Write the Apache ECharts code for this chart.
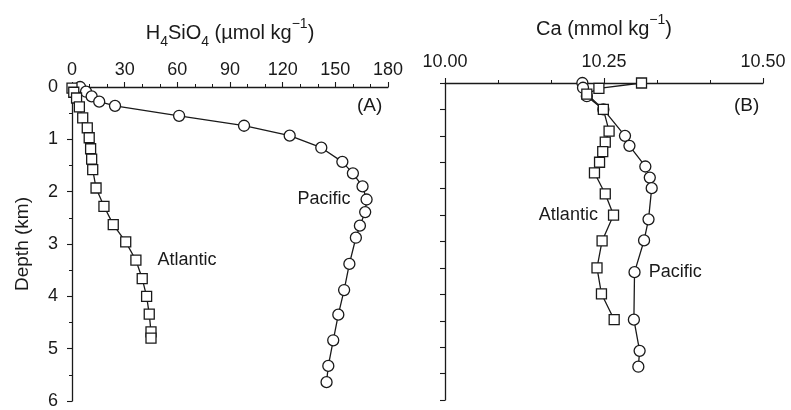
<!DOCTYPE html>
<html>
<head>
<meta charset="utf-8">
<script src="https://cdn.jsdelivr.net/npm/echarts@6/dist/echarts.min.js"></script>
<style>
  html, body { margin: 0; padding: 0; background: #fff; }
  #chart { width: 791px; height: 410px; }
</style>
</head>
<body>
<div id="chart"></div>
<script>
// 面板 A：H4SiO4 剖面
const siPacDepth = [0.0, 0.09, 0.18, 0.28, 0.36, 0.55, 0.74, 0.93, 1.16, 1.43, 1.65, 1.90, 2.15, 2.39, 2.65, 2.88, 3.38, 3.88, 4.35, 4.84, 5.33, 5.64];
const siPac = [4.6, 8, 11.2, 15.5, 24.5, 61, 98, 124, 142, 154, 160, 165.5, 167.8, 167, 164, 161.7, 158, 155, 151.7, 148.8, 146, 145];
const siAtlDepth = [0.02, 0.1, 0.21, 0.38, 0.59, 0.78, 0.97, 1.18, 1.38, 1.58, 1.93, 2.28, 2.63, 2.96, 3.31, 3.66, 4.0, 4.34, 4.68, 4.80];
const siAtl = [0, 1, 2.6, 4.2, 6.1, 8.7, 9.8, 10.6, 11.2, 11.8, 13.7, 18.2, 23.5, 30.6, 36.4, 40, 42.5, 44, 45, 45];

// 面板 B：Ca 剖面
const caPacDepth = [0, 0.09, 0.25, 0.50, 1.0, 1.19, 1.58, 1.79, 1.99, 2.58, 2.98, 3.58, 4.48, 5.07, 5.37];
const caPac = [10.216, 10.217, 10.223, 10.249, 10.283, 10.290, 10.315, 10.322, 10.325, 10.320, 10.313, 10.298, 10.297, 10.306, 10.304];
const caAtlDepth = [0, 0.10, 0.21, 0.50, 0.91, 1.12, 1.30, 1.50, 1.70, 2.10, 2.50, 2.99, 3.50, 3.99, 4.48];
const caAtl = [10.309, 10.242, 10.223, 10.249, 10.258, 10.252, 10.248, 10.243, 10.235, 10.252, 10.265, 10.247, 10.239, 10.246, 10.266];

// 哪个点旁边放标注
const siPacLabelIdx = 12;
const siAtlLabelIdx = 14;
const caAtlLabelIdx = 10;
const caPacLabelIdx = 11;

const FONT = 'Liberation Sans, Arial, Helvetica, sans-serif';
const INK = '#1a1a1a';

function pairs(values, depths, labelIdx, text, pos, dist) {
    return values.map((v, i) => {
        const item = { value: [v, depths[i]] };
        if (i === labelIdx) {
            item.label = {
                show: true, formatter: text, position: pos, distance: dist,
                fontFamily: FONT, fontSize: 18, color: INK
            };
        }
        return item;
    });
}

function profile(name, data, idx, symbol, size) {
    return {
        name: name,
        type: 'line',
        xAxisIndex: idx,
        yAxisIndex: idx,
        data: data,
        symbol: symbol,
        symbolSize: size,
        showSymbol: true,
        animation: false,
        lineStyle: { color: INK, width: 1.3 },
        itemStyle: { color: '#fff', borderColor: INK, borderWidth: 1.3 },
        z: 3
    };
}

const axisLineStyle = { show: true, lineStyle: { color: INK, width: 1.3 } };
const tickStyle = { show: true, length: 5, lineStyle: { color: INK, width: 1.1 } };
const minorStyle = { show: true, length: 3, lineStyle: { color: INK, width: 1 } };

const nameRich = {
    n: { fontFamily: FONT, fontSize: 20, color: INK, lineHeight: 24 },
    sub: { fontFamily: FONT, fontSize: 14, color: INK, lineHeight: 16, verticalAlign: 'bottom', padding: [0, 0, -4, 0] },
    sup: { fontFamily: FONT, fontSize: 14, color: INK, lineHeight: 16, verticalAlign: 'top', padding: [-4, 0, 0, 0] }
};

const chart = echarts.init(document.getElementById('chart'), null, { renderer: 'canvas' });

const option = {
    backgroundColor: '#fff',
    animation: false,
    grid: [
        { left: 72, right: 403, top: 87, bottom: 7 },
        { left: 445, right: 28, top: 83, bottom: 10 }
    ],
    xAxis: [
        {
            gridIndex: 0, type: 'value', position: 'top',
            min: 0, max: 180, interval: 30,
            name: '{n|H}{sub|4}{n|SiO}{sub|4}{n| (µmol kg}{sup|−1}{n|)}',
            nameLocation: 'middle', nameGap: 42,
            nameTextStyle: { rich: nameRich },
            axisLine: axisLineStyle, axisTick: tickStyle,
            minorTick: Object.assign({ splitNumber: 3 }, minorStyle),
            splitLine: { show: false },
            axisLabel: { fontFamily: FONT, fontSize: 18, color: INK, margin: 8 }
        },
        {
            gridIndex: 1, type: 'value', position: 'top',
            min: 10, max: 10.5, interval: 0.25,
            name: '{n|Ca (mmol kg}{sup|−1}{n|)}',
            nameLocation: 'middle', nameGap: 42,
            nameTextStyle: { rich: nameRich },
            axisLine: axisLineStyle, axisTick: tickStyle,
            minorTick: Object.assign({ splitNumber: 3 }, minorStyle),
            splitLine: { show: false },
            axisLabel: {
                fontFamily: FONT, fontSize: 18, color: INK, margin: 12,
                formatter: (v) => v.toFixed(2)
            }
        }
    ],
    yAxis: [
        {
            gridIndex: 0, type: 'value', inverse: true,
            min: 0, max: 6, interval: 1,
            name: 'Depth (km)', nameLocation: 'middle', nameGap: 40, nameRotate: 90,
            nameTextStyle: { fontFamily: FONT, fontSize: 19, color: INK },
            axisLine: axisLineStyle, axisTick: tickStyle,
            minorTick: Object.assign({ splitNumber: 2 }, minorStyle),
            splitLine: { show: false },
            axisLabel: { fontFamily: FONT, fontSize: 18, color: INK, margin: 14 }
        },
        {
            gridIndex: 1, type: 'value', inverse: true,
            min: 0, max: 6, interval: 0.5,
            axisLine: axisLineStyle, axisTick: tickStyle,
            splitLine: { show: false },
            axisLabel: { show: false }
        }
    ],
    graphic: [
        { type: 'text', left: 357, top: 96, style: { text: '(A)', font: '19px ' + FONT, fill: INK } },
        { type: 'text', left: 734, top: 96, style: { text: '(B)', font: '19px ' + FONT, fill: INK } }
    ],
    series: [
        profile('Pacific', pairs(siPac, siPacDepth, siPacLabelIdx, 'Pacific', 'left', 10), 0, 'circle', 11),
        profile('Atlantic', pairs(siAtl, siAtlDepth, siAtlLabelIdx, 'Atlantic', 'right', 16), 0, 'rect', 10),
        profile('Pacific', pairs(caPac, caPacDepth, caPacLabelIdx, 'Pacific', 'right', 8), 1, 'circle', 11),
        profile('Atlantic', pairs(caAtl, caAtlDepth, caAtlLabelIdx, 'Atlantic', 'left', 10), 1, 'rect', 10)
    ]
};

chart.setOption(option);
</script>
</body>
</html>
